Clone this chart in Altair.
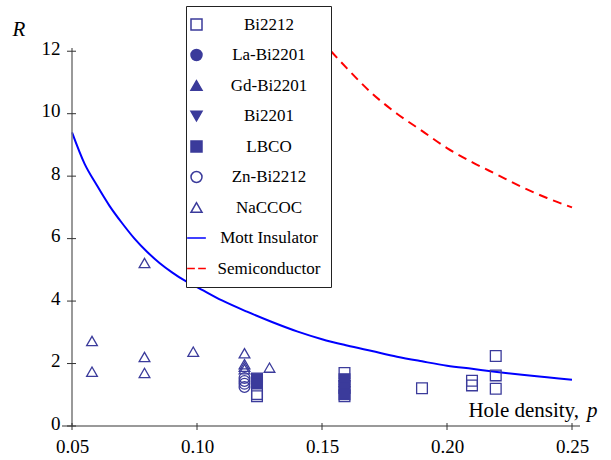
import altair as alt
import pandas as pd

NAVY = "#3b3b9b"
SERIF = "'Liberation Serif', 'Times New Roman', Times, serif"

series_names = ["Bi2212", "La-Bi2201", "Gd-Bi2201", "Bi2201", "LBCO",
                "Zn-Bi2212", "NaCCOC", "Mott Insulator", "Semiconductor"]
series_shapes = ["square", "circle", "triangle-up", "triangle-down", "square",
                 "circle", "triangle-up", "M-1.7,0H1.7", "M-1.7,0H-0.3M0.3,0H1.7"]
series_fills = ["transparent", NAVY, NAVY, NAVY, NAVY,
                "transparent", "transparent", "transparent", "transparent"]
series_strokes = [NAVY] * 7 + ["#0000ff", "#ff0000"]

# scatter data (hole density p, ratio R)
bi2212_p = [0.124, 0.124, 0.159, 0.159, 0.190, 0.210, 0.210, 0.2195, 0.2195, 0.2195]
bi2212_r = [1.02, 0.95, 1.70, 0.95, 1.21, 1.45, 1.30, 2.24, 1.62, 1.19]
la_p = [0.159, 0.159, 0.159]
la_r = [1.45, 1.30, 1.15]
gd_p = [0.159, 0.159]
gd_r = [1.40, 1.20]
bi2201_p = [0.159, 0.159]
bi2201_r = [1.30, 1.10]
lbco_p = [0.124, 0.124, 0.159, 0.159, 0.159]
lbco_r = [1.52, 1.38, 1.50, 1.25, 1.02]
zn_p = [0.119, 0.119, 0.119, 0.119]
zn_r = [1.54, 1.44, 1.35, 1.25]
na_p = [0.058, 0.058, 0.079, 0.079, 0.079, 0.0985, 0.119, 0.119, 0.119, 0.119, 0.129]
na_r = [2.72, 1.74, 5.22, 2.21, 1.70, 2.38, 2.33, 1.98, 1.90, 1.82, 1.87]

# model curves
mott_p = [0.05, 0.055, 0.06, 0.065, 0.07, 0.075, 0.08, 0.085, 0.09, 0.095, 0.10,
          0.11, 0.12, 0.13, 0.14, 0.15, 0.16, 0.17, 0.18, 0.19, 0.20, 0.21,
          0.22, 0.23, 0.24, 0.25]
mott_r = [9.40, 8.40, 7.70, 7.05, 6.50, 6.00, 5.58, 5.22, 4.92, 4.66, 4.45,
          4.02, 3.66, 3.33, 3.03, 2.78, 2.58, 2.40, 2.22, 2.07, 1.93, 1.83,
          1.73, 1.64, 1.56, 1.48]
semi_p = [0.1536, 0.16, 0.17, 0.18, 0.19, 0.20, 0.21, 0.22, 0.23, 0.24, 0.25]
semi_r = [12.0, 11.45, 10.65, 10.0, 9.45, 8.9, 8.45, 8.05, 7.65, 7.3, 7.0]

x_ticks = [0.05, 0.10, 0.15, 0.20, 0.25]
y_ticks = [0, 2, 4, 6, 8, 10, 12]

rows = []
for name, ps, rs in [("Bi2212", bi2212_p, bi2212_r), ("La-Bi2201", la_p, la_r),
                     ("Gd-Bi2201", gd_p, gd_r), ("Bi2201", bi2201_p, bi2201_r),
                     ("LBCO", lbco_p, lbco_r), ("Zn-Bi2212", zn_p, zn_r),
                     ("NaCCOC", na_p, na_r)]:
    for p, r in zip(ps, rs):
        rows.append({"p": p, "R": r, "series": name})
pts = pd.DataFrame(rows)
mott = pd.DataFrame({"p": mott_p, "R": mott_r, "series": "Mott Insulator"})
semi = pd.DataFrame({"p": semi_p, "R": semi_r, "series": "Semiconductor"})

x_scale = alt.Scale(domain=[0.05, 0.25], nice=False, zero=False)
y_scale = alt.Scale(domain=[0, 13], nice=False)

x_axis = alt.Axis(values=x_ticks, format=".2f", title=None, grid=False, domain=False,
                  ticks=False, tickSize=0, labelFont=SERIF, labelFontSize=19,
                  labelColor="black", labelPadding=11, labelFlush=False)
y_axis = alt.Axis(values=y_ticks, title="R", grid=False, domain=False, ticks=False,
                  tickSize=0, labelFont=SERIF, labelFontSize=19, labelColor="black",
                  labelPadding=12, labelOffset=-3, titleFont=SERIF, titleFontSize=21,
                  titleFontStyle="italic", titleFontWeight="normal", titleColor="black",
                  titleAngle=0, titleX=-60, titleY=15, titleAlign="left",
                  titleBaseline="alphabetic")

legend = alt.Legend(orient="none", legendX=114, legendY=-14, title=None,
                    fillColor="white", strokeColor="#222222", padding=10,
                    rowPadding=12.5, labelFont=SERIF, labelFontSize=17,
                    labelColor="black", labelAlign="center", labelOffset=64,
                    labelLimit=300, symbolSize=121, symbolStrokeWidth=1.5,
                    symbolOffset=-8, zindex=1)

shape_scale = alt.Scale(domain=series_names, range=series_shapes)
fill_scale = alt.Scale(domain=series_names, range=series_fills)
stroke_scale = alt.Scale(domain=series_names, range=series_strokes)

X = alt.X("p:Q", scale=x_scale, axis=x_axis)
Y = alt.Y("R:Q", scale=y_scale, axis=y_axis)
STROKE = alt.Stroke("series:N", scale=stroke_scale, legend=legend)

points = alt.Chart(pts).mark_point(size=115, strokeWidth=1.3, opacity=1).encode(
    x=X, y=Y,
    shape=alt.Shape("series:N", scale=shape_scale, legend=legend),
    fill=alt.Fill("series:N", scale=fill_scale, legend=legend),
    stroke=STROKE,
)

mott_line = alt.Chart(mott).mark_line(strokeWidth=2, interpolate="monotone").encode(
    x=X, y=Y, stroke=STROKE)

semi_line = alt.Chart(semi).mark_line(strokeWidth=2, strokeDash=[9, 6],
                                      interpolate="monotone").encode(
    x=X, y=Y, stroke=STROKE)

# axis lines
x_axis_line = alt.Chart(pd.DataFrame({"a": [0]})).mark_rule(
    color="#777777", strokeWidth=1.5).encode(
    x=alt.value(-10), x2=alt.value(508), y=alt.value(406))
y_axis_line = alt.Chart(pd.DataFrame({"a": [0]})).mark_rule(
    color="#777777", strokeWidth=1.5).encode(
    x=alt.value(0), y=alt.value(28), y2=alt.value(406))

x_tick_marks = alt.Chart(pd.DataFrame({"p": x_ticks})).mark_rule(
    color="#333333", strokeWidth=1).encode(
    x=X, y=alt.value(403), y2=alt.value(410))
y_tick_marks = alt.Chart(pd.DataFrame({"R": y_ticks})).mark_rule(
    color="#333333", strokeWidth=1).encode(
    y=Y, x=alt.value(-5), x2=alt.value(4))

title_main = alt.Chart(pd.DataFrame({"t": ["Hole density,"]})).mark_text(
    font=SERIF, fontSize=21, align="right", baseline="alphabetic", color="black").encode(
    text="t:N", x=alt.value(507), y=alt.value(397))
title_p = alt.Chart(pd.DataFrame({"t": ["p"]})).mark_text(
    font=SERIF, fontSize=21, fontStyle="italic", align="left", baseline="alphabetic",
    color="black").encode(
    text="t:N", x=alt.value(515), y=alt.value(397))

chart = alt.layer(
    mott_line, semi_line, points, x_axis_line, y_axis_line, x_tick_marks, y_tick_marks,
    title_main, title_p
).properties(
    width=500, height=406,
    autosize=alt.AutoSizeParams(type="none"),
    padding={"left": 72, "top": 20, "right": 39, "bottom": 34},
).configure(background="white").configure_view(stroke=None)

chart.save("out.html", embed_options={"renderer": "svg", "actions": False})
